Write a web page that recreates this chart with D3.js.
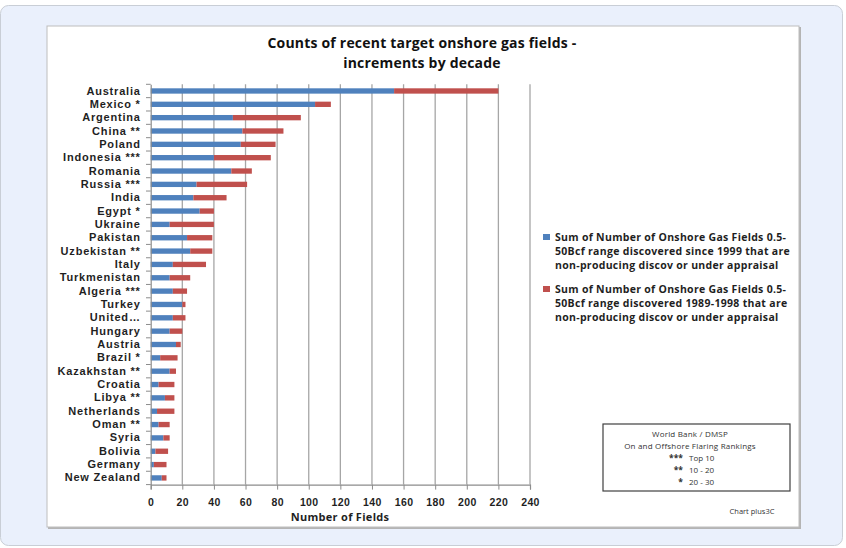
<!DOCTYPE html>
<html><head><meta charset="utf-8">
<script src="https://cdn.jsdelivr.net/npm/d3@7/dist/d3.min.js"></script>
<style>
html,body{margin:0;padding:0;background:#fff;}
svg{display:block;font-family:"Open Sans","Noto Sans",sans-serif;}
</style></head><body>
<svg id="c" width="846" height="548"></svg>
<script>
const countries = ["Australia","Mexico *","Argentina","China **","Poland","Indonesia ***","Romania","Russia ***","India","Egypt *","Ukraine","Pakistan","Uzbekistan **","Italy","Turkmenistan","Algeria ***","Turkey","United…","Hungary","Austria","Brazil *","Kazakhstan **","Croatia","Libya **","Netherlands","Oman **","Syria","Bolivia","Germany","New Zealand"];
const since1999 = [154,104,52,58,57,40,51,29,27,31,12,23,25,14,12,14,20,14,12,16,6,12,5,9,4,5,8,3,2,7];
const d1989_1998 = [66,10,43,26,22,36,13,32,21,9,28,16,14,21,13,9,2,8,8,3,11,4,10,6,11,7,4,8,8,3];
const xTicks = [0,20,40,60,80,100,120,140,160,180,200,220,240];
const seriesNames = [
  ["Sum of Number of Onshore Gas Fields 0.5-","50Bcf range discovered since 1999 that are","non-producing discov or under appraisal"],
  ["Sum of Number of Onshore Gas Fields 0.5-","50Bcf range discovered 1989-1998 that are","non-producing discov or under appraisal"]
];
const colors = ["#4f81bd","#c0504d"];
const noteLines = ["World Bank / DMSP","On and Offshore Flaring Rankings"];
const noteKeys = [["***","Top 10"],["**","10 - 20"],["*","20 - 30"]];

const svg = d3.select("#c");
// outer panel
svg.append("rect").attr("x",0.5).attr("y",5.5).attr("width",842).attr("height",540).attr("rx",8)
  .attr("fill","#eaf0fc").attr("stroke","#c9ced6");
// shadow + white chart area
svg.append("rect").attr("x",48).attr("y",27).attr("width",753).attr("height",502).attr("fill","#b4b4b4");
svg.append("rect").attr("x",47).attr("y",26).attr("width",752).attr("height",501).attr("fill","#fff").attr("stroke","#bdbdbd");

const x = d3.scaleLinear().domain([0,240]).range([150.7,530]);
const y = d3.scaleBand().domain(countries).range([84.3,484.6]).paddingInner(0.6).paddingOuter(0.3);
const yb = d3.scaleBand().domain(countries).range([84.3,484.6]);

// gridlines
svg.append("g").selectAll("line").data(xTicks.slice(1)).join("line")
  .attr("x1",d=>x(d)).attr("x2",d=>x(d)).attr("y1",84.3).attr("y2",484.6)
  .attr("stroke","#a6a6a6").attr("stroke-width",1.3);

// bars
const rows = countries.map((c,i)=>({c,a:since1999[i],b:d1989_1998[i]}));
const g = svg.append("g");
g.selectAll("rect.a").data(rows).join("rect").attr("class","a")
  .attr("x",x(0)).attr("y",d=>y(d.c)).attr("height",y.bandwidth())
  .attr("width",d=>x(d.a)-x(0)).attr("fill",colors[0]);
g.selectAll("rect.b").data(rows).join("rect").attr("class","b")
  .attr("x",d=>x(d.a)).attr("y",d=>y(d.c)).attr("height",y.bandwidth())
  .attr("width",d=>x(d.a+d.b)-x(d.a)).attr("fill",colors[1]);

// x axis
const xa = svg.append("g").attr("transform","translate(0,484.6)")
  .call(d3.axisBottom(x).tickValues(xTicks).tickSize(5).tickPadding(9));
xa.select(".domain").attr("stroke","#8c8c8c").attr("stroke-width",1.2);
xa.selectAll(".tick line").attr("stroke","#8c8c8c");
xa.selectAll("text").attr("font-size","10.5px").attr("font-weight","bold").attr("fill","#1f1f1f").attr("letter-spacing","0.4px");

// y axis
const ya = svg.append("g").attr("transform","translate(150.7,0)")
  .call(d3.axisLeft(yb).tickSize(0).tickPadding(10));
ya.select(".domain").attr("stroke","#8c8c8c").attr("stroke-width",1.2);
ya.selectAll("text").attr("font-size","11px").attr("font-weight","bold").attr("fill","#1f1f1f").attr("letter-spacing","0.8px");
// band boundary ticks
svg.append("g").selectAll("line").data(d3.range(countries.length+1)).join("line")
  .attr("x1",146).attr("x2",150.7)
  .attr("y1",i=>84.3+i*yb.step()).attr("y2",i=>84.3+i*yb.step())
  .attr("stroke","#8c8c8c");

// title
svg.append("text").attr("x",422).attr("y",48).attr("text-anchor","middle")
  .attr("font-size","14px").attr("font-weight","bold").attr("fill","#111").attr("letter-spacing","0.2px")
  .text("Counts of recent target onshore gas fields -");
svg.append("text").attr("x",422).attr("y",68).attr("text-anchor","middle")
  .attr("font-size","14px").attr("font-weight","bold").attr("fill","#111").attr("letter-spacing","0.2px")
  .text("increments by decade");

// x title
svg.append("text").attr("x",340).attr("y",521).attr("text-anchor","middle")
  .attr("font-size","11px").attr("font-weight","bold").attr("fill","#1f1f1f").attr("letter-spacing","0.3px").text("Number of Fields");

// legend
const lg = svg.append("g");
seriesNames.forEach((lines,k)=>{
  const y0 = 241 + k*52;
  lg.append("rect").attr("x",543).attr("y",y0-7).attr("width",7).attr("height",6).attr("fill",colors[k]);
  lines.forEach((t,j)=>{
    lg.append("text").attr("x",555).attr("y",y0+j*14).attr("font-size","10.5px").attr("font-weight","bold")
      .attr("letter-spacing","0.3px").attr("fill","#1f1f1f").text(t);
  });
});

// note box
svg.append("rect").attr("x",603).attr("y",424).attr("width",187).attr("height",67).attr("fill","#fff")
  .attr("stroke","#404040").attr("stroke-width",1.2);
noteLines.forEach((t,j)=>{
  svg.append("text").attr("x",690).attr("y",437+j*11.5).attr("text-anchor","middle")
    .attr("font-size","8px").attr("letter-spacing","0.2px").attr("fill","#333").text(t);
});
noteKeys.forEach((k,j)=>{
  svg.append("text").attr("x",683).attr("y",461+j*12).attr("text-anchor","end").attr("font-size","8.5px").attr("font-weight","bold").attr("fill","#333").text(k[0]);
  svg.append("text").attr("x",689).attr("y",461+j*12).attr("font-size","8px").attr("fill","#333").text(k[1]);
});
svg.append("text").attr("x",752).attr("y",514).attr("text-anchor","middle").attr("font-size","7.5px").attr("fill","#333").text("Chart plus3C");
</script></body></html>
